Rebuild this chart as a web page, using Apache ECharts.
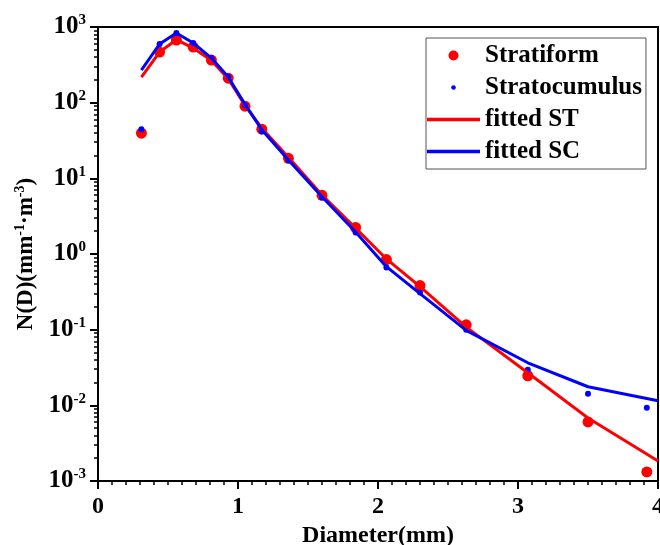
<!DOCTYPE html>
<html>
<head>
<meta charset="utf-8">
<script src="https://cdn.jsdelivr.net/npm/echarts@6/dist/echarts.min.js"></script>
<style>
  html, body { margin: 0; padding: 0; background: #fff; }
  #chart { width: 660px; height: 545px; }
</style>
</head>
<body>
<div id="chart"></div>
<script>
// drop diameters (mm)
const diameters = [0.31, 0.44, 0.56, 0.68, 0.81, 0.93, 1.05, 1.17, 1.36, 1.6, 1.84, 2.06, 2.3, 2.63, 3.07, 3.5, 3.92];
const stratiform = [39.5, 467, 673, 543, 366, 211, 90, 44.6, 18.4, 5.96, 2.24, 0.845, 0.383, 0.116, 0.0246, 0.00604, 0.00132];
const stratocumulus = [44.6, 596, 832, 614, 388, 218, 92.7, 42, 17.3, 5.6, 1.93, 0.662, 0.309, 0.1, 0.0295, 0.0142, 0.0093];

// fitted curves
const fitX = [0.31, 0.44, 0.56, 0.68, 0.81, 0.93, 1.05, 1.17, 1.36, 1.6, 1.84, 2.06, 2.3, 2.63, 3.07, 3.5, 4.0];
const fittedST = [218, 467, 680, 527, 360, 207, 92, 46, 19, 6.0, 2.2, 0.86, 0.37, 0.108, 0.027, 0.0068, 0.00184];
const fittedSC = [270, 596, 832, 614, 388, 218, 95, 44, 17.5, 5.7, 1.95, 0.68, 0.30, 0.098, 0.0365, 0.0176, 0.0115];

const yMinorTicks = [];
[0.001, 0.01, 0.1, 1, 10, 100].forEach(function (d) {
  for (let k = 2; k <= 9; k++) yMinorTicks.push(+(d * k).toPrecision(3));
});

const font = "'Liberation Serif', 'Times New Roman', serif";
const pairs = (xs, ys) => xs.map((x, i) => [x, ys[i]]);

var myChart = echarts.init(document.getElementById("chart"));

let option = {
  animation: false,
  textStyle: { fontFamily: font, color: "#000" },
  grid: {
    left: 98,
    right: 2,
    top: 27,
    bottom: 64,
    outerBoundsMode: "none",
    containLabel: false,
    show: true,
    borderColor: "#000",
    borderWidth: 2,
  },
  legend: {
    orient: "vertical",
    left: 426,
    top: 38,
    padding: [5, 4, 5, 1],
    itemWidth: 53,
    itemHeight: 10,
    itemGap: 7,
    borderColor: "#555",
    borderWidth: 1,
    textStyle: { fontFamily: font, fontWeight: "bold", fontSize: 25, color: "#000" },
    data: [
      { name: "Stratiform", icon: "circle" },
      { name: "Stratocumulus", icon: "path://M0 0M10 10M7.3 5A2.3 2.3 0 1 1 2.7 5A2.3 2.3 0 1 1 7.3 5Z" },
      { name: "fitted ST", icon: "path://M0 0L53 0L53 3.5L0 3.5Z" },
      { name: "fitted SC", icon: "path://M0 0L53 0L53 3.5L0 3.5Z" },
    ],
  },
  xAxis: {
    type: "value",
    min: 0,
    max: 4,
    interval: 1,
    name: "Diameter(mm)",
    nameLocation: "middle",
    nameGap: 39,
    nameTextStyle: { fontFamily: font, fontWeight: "bold", fontSize: 24, color: "#000" },
    axisLine: { lineStyle: { color: "#000", width: 2 } },
    axisTick: { length: 8, lineStyle: { color: "#000", width: 2 } },
    minorTick: { show: true, splitNumber: 10, length: 4, lineStyle: { color: "#000", width: 1.5 } },
    splitLine: { show: false },
    axisLabel: { margin: 14, fontFamily: font, fontWeight: "bold", fontSize: 24, color: "#000" },
  },
  yAxis: [
    {
      type: "log",
      logBase: 10,
      min: 0.001,
      max: 1000,
      splitNumber: 6,
      name: "{b|N(D)(mm}{s|-1}{b|·m}{s|-3}{b|)}",
      nameLocation: "middle",
      nameGap: 55,
      nameTextStyle: {
        rich: {
          b: { fontFamily: font, fontWeight: "bold", fontSize: 23, color: "#000", lineHeight: 26 },
          s: { fontFamily: font, fontWeight: "bold", fontSize: 14, color: "#000", verticalAlign: "top", lineHeight: 26 },
        },
      },
      axisLine: { show: true, lineStyle: { color: "#000", width: 2 } },
      axisTick: { length: 8, lineStyle: { color: "#000", width: 2 } },
      splitLine: { show: false },
      axisLabel: {
        margin: 12,
        formatter: function (v) {
          return "{b|10}{s|" + Math.round(Math.log10(v)) + "}";
        },
        rich: {
          b: { fontFamily: font, fontWeight: "bold", fontSize: 25, color: "#000", lineHeight: 28 },
          s: { fontFamily: font, fontWeight: "bold", fontSize: 15, color: "#000", verticalAlign: "top", lineHeight: 28 },
        },
      },
    },
    {
      type: "log",
      logBase: 10,
      min: 0.001,
      max: 1000,
      position: "left",
      axisLine: { show: false },
      axisLabel: { show: false },
      splitLine: { show: false },
      axisTick: { show: true, length: 4, customValues: yMinorTicks, lineStyle: { color: "#000", width: 1.5 } },
    },
  ],
  series: [
    {
      name: "Stratiform",
      type: "scatter",
      symbol: "circle",
      symbolSize: 11,
      itemStyle: { color: "#ff0000", opacity: 1 },
      data: pairs(diameters, stratiform),
    },
    {
      name: "Stratocumulus",
      type: "scatter",
      symbol: "circle",
      symbolSize: 6,
      itemStyle: { color: "#0000ff", opacity: 1 },
      data: pairs(diameters, stratocumulus),
    },
    {
      name: "fitted ST",
      type: "line",
      symbol: "none",
      lineStyle: { color: "#ff0000", width: 3 },
      itemStyle: { color: "#ff0000" },
      data: pairs(fitX, fittedST),
    },
    {
      name: "fitted SC",
      type: "line",
      symbol: "none",
      lineStyle: { color: "#0000ff", width: 3 },
      itemStyle: { color: "#0000ff" },
      data: pairs(fitX, fittedSC),
    },
  ],
};
myChart.setOption(option);
</script>
</body>
</html>
